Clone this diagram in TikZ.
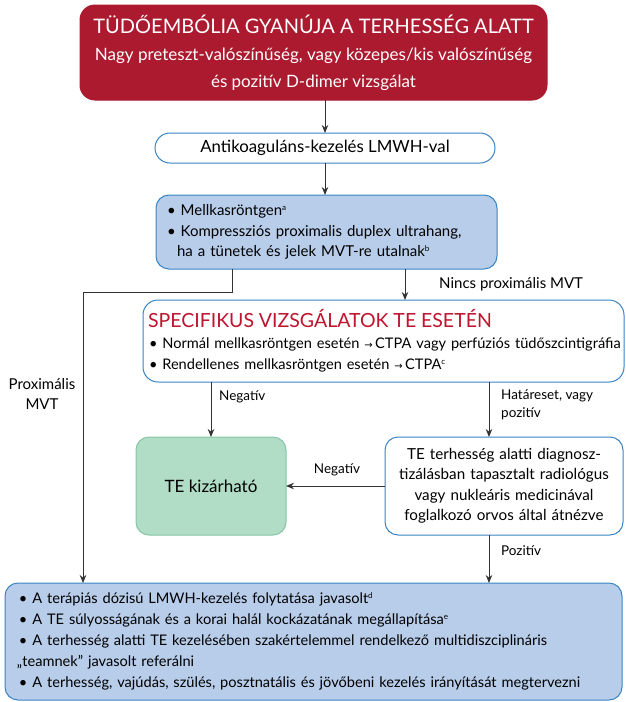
\documentclass[tikz,border=0pt]{standalone}
\usepackage{fontspec}
\setmainfont{Lato}
\newfontfamily\symfont{DejaVu Sans}
\usetikzlibrary{arrows.meta}
\definecolor{darkred}{HTML}{AC1A2F}
\definecolor{bordblue}{HTML}{3A84C4}
\definecolor{lightblue}{HTML}{B8CDEA}
\definecolor{lightgreen}{HTML}{B1DCC6}
\definecolor{greenbord}{HTML}{86C5A6}
\definecolor{linegray}{HTML}{333333}
\definecolor{spectitle}{HTML}{C0142F}
\newcommand{\rarr}{{\symfont\fontsize{10}{10}\selectfont→}}
\newcommand{\fnm}[1]{\textsuperscript{\fontsize{8}{8}\selectfont #1}}
\tikzset{
  box/.style={draw=bordblue, line width=1pt, rounded corners=13pt, inner sep=0pt, outer sep=0pt},
  arr/.style={draw=linegray, line width=1pt, -{Stealth[length=8pt,width=6.5pt]}},
  lbl/.style={font=\fontsize{13.5}{18}\selectfont, text=black, inner sep=0pt, align=left}
}
\begin{document}
\begin{tikzpicture}[x=1pt,y=-1pt]
\useasboundingbox (0,0) rectangle (625,702);
% title
\node[box, draw=darkred, fill=darkred, text=white, minimum width=467, minimum height=95, rounded corners=15pt, align=center, font=\fontsize{17}{27}\selectfont] (title) at (313.5,52.5)
  {{\fontsize{20}{24}\selectfont TÜDŐEMBÓLIA GYANÚJA A TERHESSÉG ALATT}\\[0pt]
   Nagy preteszt-valószínűség, vagy közepes/kis valószínűség\\
   és pozitív D-dimer vizsgálat};
% anticoag
\node[box, fill=white, rounded corners=15pt, minimum width=340, minimum height=30, font=\fontsize{16.8}{20}\selectfont] (anti) at (325,148) {Antikoaguláns-kezelés LMWH-val};
% box1
\node[box, fill=lightblue, anchor=north west, minimum height=74, text width=341, font=\fontsize{15}{20.5}\selectfont, align=left] (box1) at (156,195)
  {\hspace*{11pt}• Mellkasröntgen\fnm{a}\\
   \hspace*{11pt}• Kompressziós proximalis duplex ultrahang,\\
   \hspace*{21pt}ha a tünetek és jelek MVT-re utalnak\fnm{b}};
% spec
\node[box, fill=white, anchor=north west, minimum height=82, text width=481, align=left, rounded corners=15pt, font=\fontsize{14.6}{21}\selectfont] (spec) at (143,300)
  {\hspace*{5pt}{\fontsize{19.5}{23}\selectfont\color{spectitle}SPECIFIKUS VIZSGÁLATOK TE ESETÉN}\\[0pt]
   \hspace*{6pt}• Normál mellkasröntgen esetén \rarr\,CTPA vagy perfúziós tüdőszcintigráfia\\
   \hspace*{6pt}• Rendellenes mellkasröntgen esetén \rarr\,CTPA\fnm{c}};
% TE kizarhato
\node[box, draw=greenbord, fill=lightgreen, anchor=north west, minimum width=150, minimum height=98, font=\fontsize{17}{20}\selectfont] (te) at (136,437) {TE kizárható};
% right box
\node[box, fill=white, anchor=north west, minimum width=238, minimum height=98, text width=238, align=center, font=\fontsize{15.2}{20.5}\selectfont] (rev) at (385,437)
  {TE terhesség alatti diagnosz-\\tizálásban tapasztalt radiológus\\vagy nukleáris medicinával\\foglalkozó orvos által átnézve};
% bottom box
\node[box, fill=lightblue, anchor=north west, minimum height=117, text width=617, align=left, font=\fontsize{14.6}{21}\selectfont] (bot) at (5,583)
  {\hspace*{14pt}• A terápiás dózisú LMWH-kezelés folytatása javasolt\fnm{d}\\
   \hspace*{14pt}• A TE súlyosságának és a korai halál kockázatának megállapítása\fnm{e}\\
   \hspace*{14pt}• A terhesség alatti TE kezelésében szakértelemmel rendelkező multidiszciplináris\\
   \hspace*{12pt}„teamnek” javasolt referálni\\
   \hspace*{14pt}• A terhesség, vajúdás, szülés, posztnatális és jövőbeni kezelés irányítását megtervezni};
% coordinates
\coordinate (b1l) at (232,269);
\coordinate (b1k) at (232,292);
\coordinate (pl) at (83,292);
\coordinate (b1r) at (405,269);
\coordinate (spl) at (211,382);
\coordinate (spr) at (489,382);
\coordinate (rvb) at (489,535);
% connectors
\draw[arr] (anti.north |- title.south) -- (anti.north);
\draw[arr] (anti.south) -- (anti.south |- box1.north);
\draw[arr] (b1l) -- (b1k) -- (pl) -- (pl |- bot.north);
\draw[arr] (b1r) -- (b1r |- spec.north);
\draw[arr] (spl) -- (spl |- te.north);
\draw[arr] (spr) -- (spr |- rev.north);
\draw[arr] (rev.west) -- (te.east);
\draw[arr] (rvb) -- (rvb |- bot.north);
% labels
\node[lbl, anchor=west, font=\fontsize{15}{18}\selectfont] (l1) at (439,284) {Nincs proximális MVT};
\node[lbl, anchor=west] (l2) at (219,397) {Negatív};
\node[lbl, anchor=north west] (l3) at (501,390) {Határeset, vagy\\pozitív};
\node[lbl] (l4) at (337,470) {Negatív};
\node[lbl, anchor=west] (l5) at (501,551) {Pozitív};
\node[lbl, align=center, font=\fontsize{15}{20.5}\selectfont] (l6) at (42,394) {Proximális\\MVT};
\end{tikzpicture}
\end{document}
